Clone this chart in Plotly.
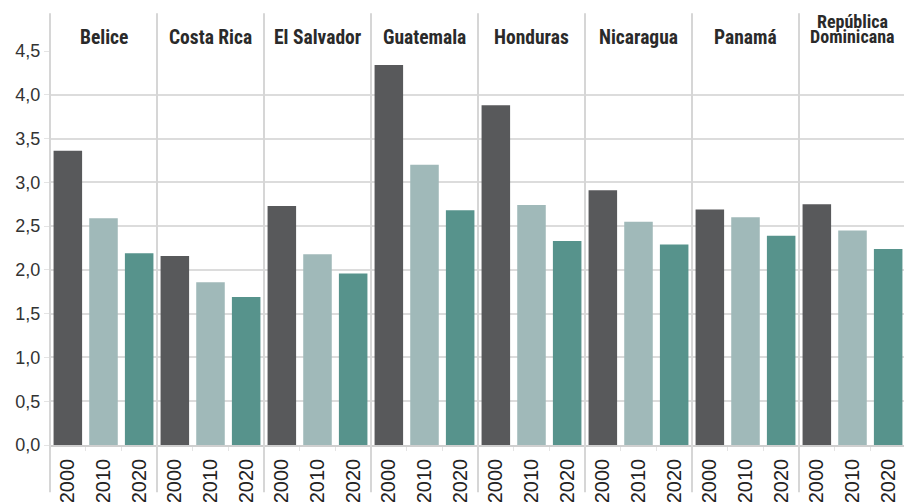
import plotly.graph_objects as go
from plotly.subplots import make_subplots

countries = ["Belice", "Costa Rica", "El Salvador", "Guatemala", "Honduras",
             "Nicaragua", "Panamá", "República Dominicana"]
years = ["2000", "2010", "2020"]
v2000 = [3.36, 2.16, 2.73, 4.34, 3.88, 2.91, 2.69, 2.75]
v2010 = [2.59, 1.86, 2.18, 3.20, 2.74, 2.55, 2.60, 2.45]
v2020 = [2.19, 1.69, 1.96, 2.68, 2.33, 2.29, 2.39, 2.24]
y_ticks = [0, 0.5, 1.0, 1.5, 2.0, 2.5, 3.0, 3.5, 4.0, 4.5]
y_tick_labels = ["0,0", "0,5", "1,0", "1,5", "2,0", "2,5", "3,0", "3,5", "4,0", "4,5"]
colors = ["#58595b", "#a0b9b9", "#57938c"]

n = len(countries)
fig = make_subplots(rows=1, cols=n, shared_yaxes=True, horizontal_spacing=0)

for i in range(n):
    vals = [v2000[i], v2010[i], v2020[i]]
    fig.add_trace(go.Bar(x=years, y=vals, marker=dict(color=colors, line=dict(width=0)),
                         showlegend=False, hoverinfo="x+y"), row=1, col=i + 1)

grid = "#dcdcdc"
for i in range(n):
    fig.update_xaxes(row=1, col=i + 1, type="category", tickangle=-90, automargin=False,
                     tickfont=dict(family="Liberation Sans, Arial, sans-serif", size=20, color="#222"),
                     showline=True, linecolor="#cfcfcf", linewidth=1.5,
                     ticks="outside", tickson="boundaries", ticklen=4, tickcolor="#e4e4e4",
                     ticklabelstandoff=4, showgrid=False, fixedrange=True)
    fig.update_yaxes(row=1, col=i + 1, range=[0, 4.5], tickvals=y_ticks, ticktext=y_tick_labels,
                     showgrid=True, gridcolor=grid, gridwidth=1.5, zeroline=False, automargin=False,
                     tickfont=dict(family="Liberation Sans, Arial, sans-serif", size=18, color="#333"),
                     ticks="outside" if i == 0 else "", ticklen=5, tickcolor="#e4e4e4",
                     showticklabels=(i == 0), fixedrange=True)

# page body has an 8px margin, so the figure is offset by 8px right/down
fig.update_layout(bargap=0.2, plot_bgcolor="white", paper_bgcolor="white",
                  width=904, height=494, margin=dict(l=42, r=6, t=43, b=57, autoexpand=False))

# separators and country headers
shapes = []
annotations = []
for i in range(n + 1):
    x = i / n
    shapes.append(dict(type="line", xref="paper", yref="paper", x0=x, x1=x,
                       y0=-0.12, y1=1.096, line=dict(color="#d6d6d6", width=2)))
hfont = "Roboto Condensed, Liberation Sans Narrow, Roboto, sans-serif"
for i in range(n):
    words = countries[i].split(" ")
    if len(countries[i]) > 12 and len(words) == 2:
        lines = [(words[0], 30), (words[1], 15)]
        size = 18
    else:
        lines = [(countries[i], 14)]
        size = 19.5
    for txt, off in lines:
        annotations.append(dict(xref="paper", yref="paper", x=(i + 0.5) / n,
                                y=1, yshift=off,
                                text="<b>" + txt + "</b>", showarrow=False,
                                xanchor="center", yanchor="middle",
                                font=dict(family=hfont, size=size, color="#2a2a2a")))
fig.update_layout(shapes=shapes, annotations=annotations)

fig.write_html("out.html")
